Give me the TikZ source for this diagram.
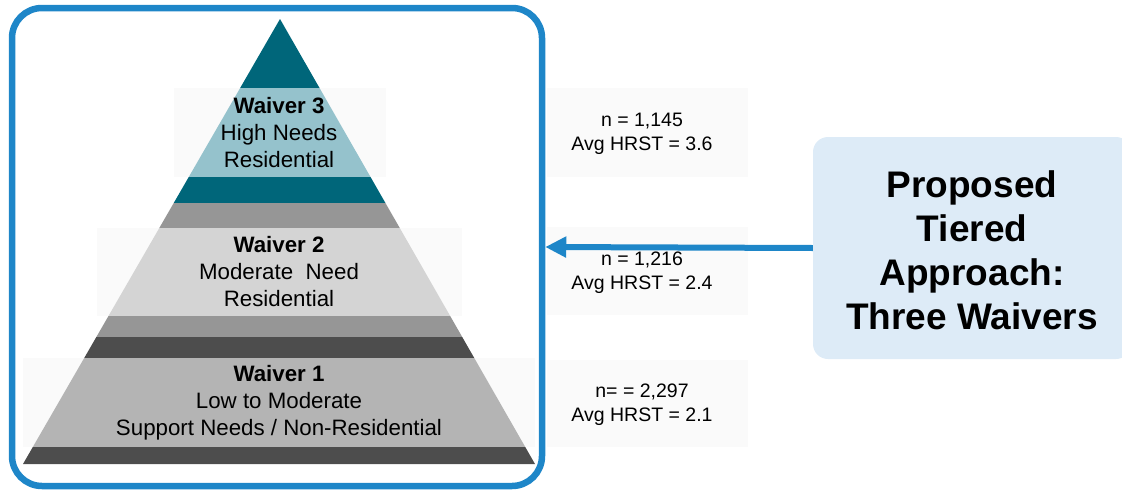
\documentclass[tikz,border=0pt]{standalone}
\usepackage{fontspec}
\setmainfont{Liberation Sans}
\usetikzlibrary{arrows.meta}
\definecolor{framblue}{RGB}{30,134,200}
\definecolor{darkteal}{RGB}{0,102,122}
\definecolor{lightteal}{RGB}{149,194,204}
\definecolor{midgray}{RGB}{150,150,150}
\definecolor{lightgray}{RGB}{212,212,212}
\definecolor{darkgray}{RGB}{77,77,77}
\definecolor{basegray}{RGB}{180,180,180}
\definecolor{boxbg}{RGB}{250,250,250}
\definecolor{panelblue}{RGB}{221,235,247}
\tikzset{
  tiertext/.style={align=center, inner sep=0pt, font=\fontsize{22.3}{27}\selectfont},
  numtext/.style={align=center, inner sep=0pt, font=\fontsize{19.5}{24}\selectfont},
  bgbox/.style={fill=boxbg, draw=none},
  connector/.style={draw=framblue, line width=6pt, -{Triangle[length=21pt,width=20pt]}}
}
\begin{document}
\begin{tikzpicture}[x=1pt,y=-1pt]
\useasboundingbox (0,0) rectangle (1122,493);
% faint background boxes behind the texts
\fill[bgbox] (174,88) rectangle (386,177);
\fill[bgbox] (97,228) rectangle (462,316);
\fill[bgbox] (23,358) rectangle (535,447);
\fill[bgbox] (547,88) rectangle (748,177);
\fill[bgbox] (547,227) rectangle (748,315);
\fill[bgbox] (547,360) rectangle (748,447);
% pyramid
\begin{scope}
  \clip (280,19) -- (535,464) -- (23,464) -- cycle;
  \fill[darkteal]  (0,0)   rectangle (560,88);
  \fill[lightteal] (0,88)  rectangle (560,177);
  \fill[darkteal]  (0,177) rectangle (560,203);
  \fill[midgray]   (0,203) rectangle (560,228);
  \fill[lightgray] (0,228) rectangle (560,316);
  \fill[midgray]   (0,316) rectangle (560,337);
  \fill[darkgray]  (0,337) rectangle (560,358);
  \fill[basegray]  (0,358) rectangle (560,447);
  \fill[darkgray]  (0,447) rectangle (560,470);
\end{scope}
% tier texts
\node[tiertext] (w3) at (279,132.5) {\textbf{Waiver 3}\\High Needs\\Residential};
\node[tiertext] (w2) at (279,272) {\textbf{Waiver 2}\\Moderate\ \ Need\\Residential};
\node[tiertext] (w1) at (279,402.5) {\textbf{Waiver 1}\\Low to Moderate\\Support Needs / Non-Residential};
% numbers
\node[numtext] (n3) at (642,134) {n = 1,145\\Avg HRST = 3.6};
\node[numtext] (n2) at (642,273) {n = 1,216\\Avg HRST = 2.4};
\node[numtext] (n1) at (642,404.5) {n= = 2,297\\Avg HRST = 2.1};
% frame
\node[draw=framblue, line width=6.5pt, rounded corners=30pt, minimum width=530pt, minimum height=478pt, inner sep=0pt] (frame) at (277,247) {};
% right panel
\node[fill=panelblue, rounded corners=15pt, minimum width=318pt, minimum height=222pt, inner sep=0pt] (panel) at (972,248) {};
\node[align=center, inner sep=0pt, font=\fontsize{37}{44}\selectfont\bfseries] (ptext) at (972,250) {Proposed\\Tiered\\Approach:\\Three Waivers};
% connector
\draw[connector] (panel.west) -- (frame.east);
\end{tikzpicture}
\end{document}
